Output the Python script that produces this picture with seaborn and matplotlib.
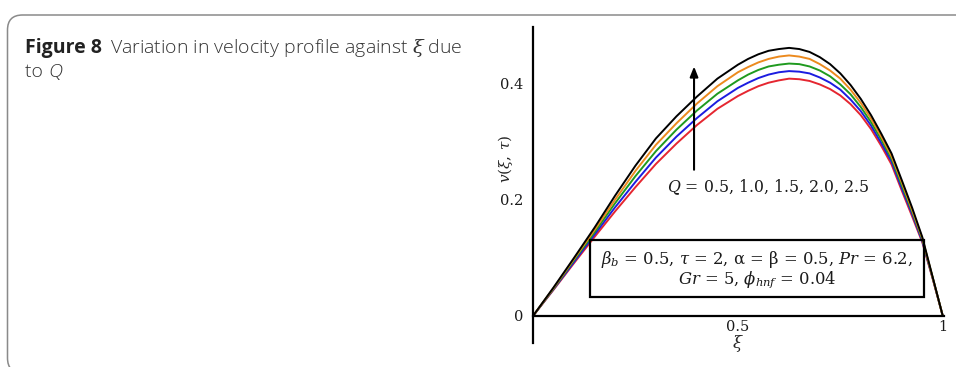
import matplotlib
matplotlib.use("Agg")
import matplotlib.pyplot as plt
from matplotlib.patches import FancyBboxPatch, Rectangle
import seaborn as sns
import pandas as pd

# ---- data ----
xi = [0, .05, .10, .15, .20, .25, .30, .35, .40, .45, .50, .525, .55, .575, .60, .625,
      .65, .675, .70, .725, .75, .775, .80, .825, .85, .875, .90, .925, .95, .975, 1.0]
v_q05 = [0, .045, .091, .136, .180, .222, .262, .297, .329, .357, .379, .388, .396, .402, .406, .409,
         .408, .405, .399, .391, .380, .365, .346, .322, .293, .261, .216, .172, .127, .065, 0]
v_q10 = [0, .046, .093, .140, .187, .231, .273, .309, .341, .370, .393, .402, .410, .416, .420, .422,
         .421, .418, .411, .402, .390, .373, .353, .328, .298, .266, .220, .176, .129, .066, 0]
v_q15 = [0, .047, .096, .144, .194, .241, .284, .321, .354, .383, .406, .416, .424, .430, .433, .435,
         .434, .430, .423, .413, .399, .382, .360, .334, .304, .271, .225, .180, .132, .067, 0]
v_q20 = [0, .048, .098, .148, .200, .250, .295, .332, .366, .396, .420, .429, .437, .443, .447, .449,
         .447, .443, .434, .423, .409, .390, .367, .340, .309, .275, .230, .183, .134, .067, 0]
v_q25 = [0, .049, .100, .152, .207, .259, .306, .344, .378, .409, .433, .443, .451, .457, .460, .462,
         .460, .455, .446, .434, .418, .398, .374, .346, .314, .280, .234, .187, .136, .068, 0]
q_values = ["0.5", "1.0", "1.5", "2.0", "2.5"]
colors = ["#e52630", "#1c1ce0", "#1f9a1f", "#ec8a1e", "#000000"]

xticks = [0.5, 1.0]
xticklabels = ["0.5", "1"]
yticks = [0.0, 0.2, 0.4]
yticklabels = ["0", "0.2", "0.4"]

series = [v_q05, v_q10, v_q15, v_q20, v_q25]
df = pd.concat([pd.DataFrame({"xi": xi, "v": s, "Q": q}) for s, q in zip(series, q_values)],
               ignore_index=True)

sns.set_theme(style="white")
plt.rcParams["font.family"] = ["DejaVu Serif"]
plt.rcParams["mathtext.fontset"] = "dejavuserif"

W, H = 956, 367
fig = plt.figure(figsize=(W / 100, H / 100), dpi=100)

# page frame with rounded corner (inch coordinates)
frame = FancyBboxPatch((0.075, -0.06), 10.0, (372 - 15) / 100 + 0.01,
                       boxstyle="round,pad=0,rounding_size=0.15",
                       transform=fig.dpi_scale_trans, fill=False,
                       edgecolor="#8a8a8a", linewidth=1.1)
fig.patches.append(frame)

ax = fig.add_axes([533 / W, 24 / H, (944 - 533) / W, (343 - 27) / H])
sns.lineplot(data=df, x="xi", y="v", hue="Q", palette=colors, linewidth=1.4,
             legend=False, ax=ax)
ax.set_xlim(0, 1.003)
ax.set_ylim(-0.0466, 0.498)

for s in ["top", "right"]:
    ax.spines[s].set_visible(False)
ax.spines["bottom"].set_position(("data", 0))
for s in ["left", "bottom"]:
    ax.spines[s].set_color("black")
    ax.spines[s].set_linewidth(1.6)

ax.set_xticks(xticks)
ax.set_xticklabels(xticklabels)
ax.set_yticks(yticks)
ax.set_yticklabels(yticklabels)
ax.tick_params(axis="both", direction="inout", length=6, width=1.2, color="black",
               labelsize=10.5, labelcolor="#1a1a1a")
ax.tick_params(axis="x", pad=0)
ax.tick_params(axis="y", pad=4)
ax.yaxis.get_major_ticks()[0].tick1line.set_visible(False)
ax.set_xlabel("")
ax.set_ylabel("")

ax.text(0.5, -0.047, r"$\xi$", ha="center", va="center", fontsize=12, clip_on=False)
ax.text(-0.068, 0.27, r"$v(\xi,\,\tau)$", rotation=90, ha="center", va="center",
        fontsize=11, clip_on=False)

# arrow and Q label
ax.annotate("", xy=(0.393, 0.430), xytext=(0.393, 0.252),
            arrowprops=dict(arrowstyle="-|>,head_length=0.5,head_width=0.2",
                            color="black", lw=1.5, shrinkA=0, shrinkB=0))
ax.text(0.573, 0.222, r"$Q$ = 0.5, 1.0, 1.5, 2.0, 2.5", ha="center", va="center",
        fontsize=11.3, color="#1a1a1a")

# parameter box
ax.add_patch(Rectangle((0.139, 0.033), 0.954 - 0.139, 0.131 - 0.033, fill=False,
                       edgecolor="black", linewidth=1.6, zorder=5))
ax.text(0.547, 0.097, r"$\beta_b$ = 0.5, $\tau$ = 2, α = β = 0.5, $Pr$ = 6.2,",
        ha="center", va="center", fontsize=11.8, color="#1a1a1a", zorder=6)
ax.text(0.547, 0.062, r"$Gr$ = 5, $\phi_{hnf}$ = 0.04",
        ha="center", va="center", fontsize=11.8, color="#1a1a1a", zorder=6)

# caption
cap_fs = 14
cap_fam = ["Open Sans", "DejaVu Sans"]
t1 = fig.text(25 / W, 1 - 53 / H, "Figure 8", fontsize=cap_fs, fontweight="bold",
              family=cap_fam, color="#222222", va="baseline")
fig.canvas.draw()
r = fig.canvas.get_renderer()
e1 = t1.get_window_extent(r)
fig.text((e1.x1 + 8) / W, 1 - 53 / H,
         r"Variation in velocity profile against $\xi$ due", fontsize=cap_fs,
         family=cap_fam, color="#333333", va="baseline", fontweight="light")
t3 = fig.text(25 / W, 1 - 77 / H, "to ", fontsize=cap_fs, fontweight="light",
              family=cap_fam, color="#333333", va="baseline")
fig.canvas.draw()
e3 = t3.get_window_extent(r)
fig.text(e3.x1 / W, 1 - 77 / H, "Q", fontsize=cap_fs, style="italic", fontweight="light",
         family=cap_fam, color="#333333", va="baseline")

fig.savefig("out.png", dpi=100)
